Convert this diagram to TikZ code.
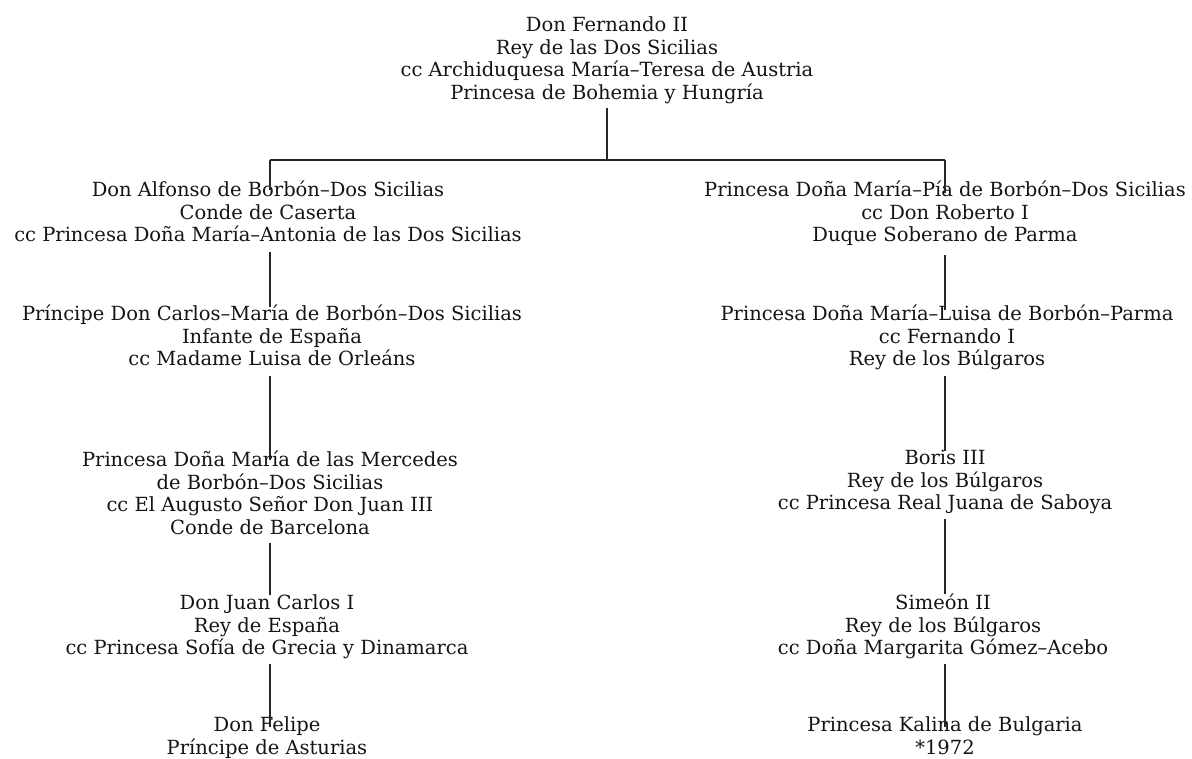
\documentclass[tikz,border=0pt]{standalone}
\usepackage{fontspec}
\setmainfont{DejaVu Serif}
\newcommand\topst{\rule{0pt}{16pt}}
\newcommand\botst{\rule[-5pt]{0pt}{5pt}}
\begin{document}
\begin{tikzpicture}[x=1pt,y=-1pt,
  person/.style={inner sep=0pt, align=center, anchor=north, text=black!92,
    font=\fontsize{19.5}{22.5}\selectfont},
  link/.style={line width=1.2pt, draw=black!85}]
\useasboundingbox[fill=white] (0,0) rectangle (1192,759);

\node[person] (top) at (607,15.5) {\topst Don Fernando II\\Rey de las Dos Sicilias\\cc Archiduquesa María–Teresa de Austria\\Princesa de Bohemia y Hungría\botst};

\node[person] (alf) at (268,180.5) {\topst Don Alfonso de Borbón–Dos Sicilias\\Conde de Caserta\\cc Princesa Doña María–Antonia de las Dos Sicilias\botst};
\node[person] (pia) at (945,180.5) {\topst Princesa Doña María–Pía de Borbón–Dos Sicilias\\cc Don Roberto I\\Duque Soberano de Parma\botst};

\node[person] (car) at (272,304.5) {\topst Príncipe Don Carlos–María de Borbón–Dos Sicilias\\Infante de España\\cc Madame Luisa de Orleáns\botst};
\node[person] (lui) at (947,304.5) {\topst Princesa Doña María–Luisa de Borbón–Parma\\cc Fernando I\\Rey de los Búlgaros\botst};

\node[person] (mer) at (270,450.5) {\topst Princesa Doña María de las Mercedes\\de Borbón–Dos Sicilias\\cc El Augusto Señor Don Juan III\\Conde de Barcelona\botst};
\node[person] (bor) at (945,448.5) {\topst Boris III\\Rey de los Búlgaros\\cc Princesa Real Juana de Saboya\botst};

\node[person] (jua) at (267,593.5) {\topst Don Juan Carlos I\\Rey de España\\cc Princesa Sofía de Grecia y Dinamarca\botst};
\node[person] (sim) at (943,593.5) {\topst Simeón II\\Rey de los Búlgaros\\cc Doña Margarita Gómez–Acebo\botst};

\node[person] (fel) at (267,715.5) {\topst Don Felipe\\Príncipe de Asturias\botst};
\node[person] (kal) at (945,715.5) {\topst Princesa Kalina de Bulgaria\\*1972\botst};

\coordinate (jm) at (607,160);
\coordinate (jl) at (270,160);
\coordinate (jr) at (945,160);
\coordinate (lx) at (270,0);
\coordinate (rx) at (945,0);

\draw[link] ([yshift=-4pt]top.south) -- (jm);
\draw[link] (jl) -- (jr);
\draw[link] (jl) -- ([yshift=-10pt]alf.north -| lx);
\draw[link] (jr) -- ([yshift=-13pt]pia.north -| rx);
\draw[link] ([yshift=-5pt]alf.south -| lx) -- ([yshift=-3pt]car.north -| lx);
\draw[link] ([yshift=-8pt]pia.south -| rx) -- ([yshift=-6pt]lui.north -| rx);
\draw[link] ([yshift=-5pt]car.south -| lx) -- ([yshift=-9.5pt]mer.north -| lx);
\draw[link] ([yshift=-5pt]lui.south -| rx) -- ([yshift=-2pt]bor.north -| rx);
\draw[link] ([yshift=-4pt]mer.south -| lx) -- ([yshift=-1pt]jua.north -| lx);
\draw[link] ([yshift=-4pt]bor.south -| rx) -- (sim.north -| rx);
\draw[link] ([yshift=-4.5pt]jua.south -| lx) -- ([yshift=-11.5pt]fel.north -| lx);
\draw[link] ([yshift=-4.5pt]sim.south -| rx) -- ([yshift=-11.5pt]kal.north -| rx);
\end{tikzpicture}
\end{document}
